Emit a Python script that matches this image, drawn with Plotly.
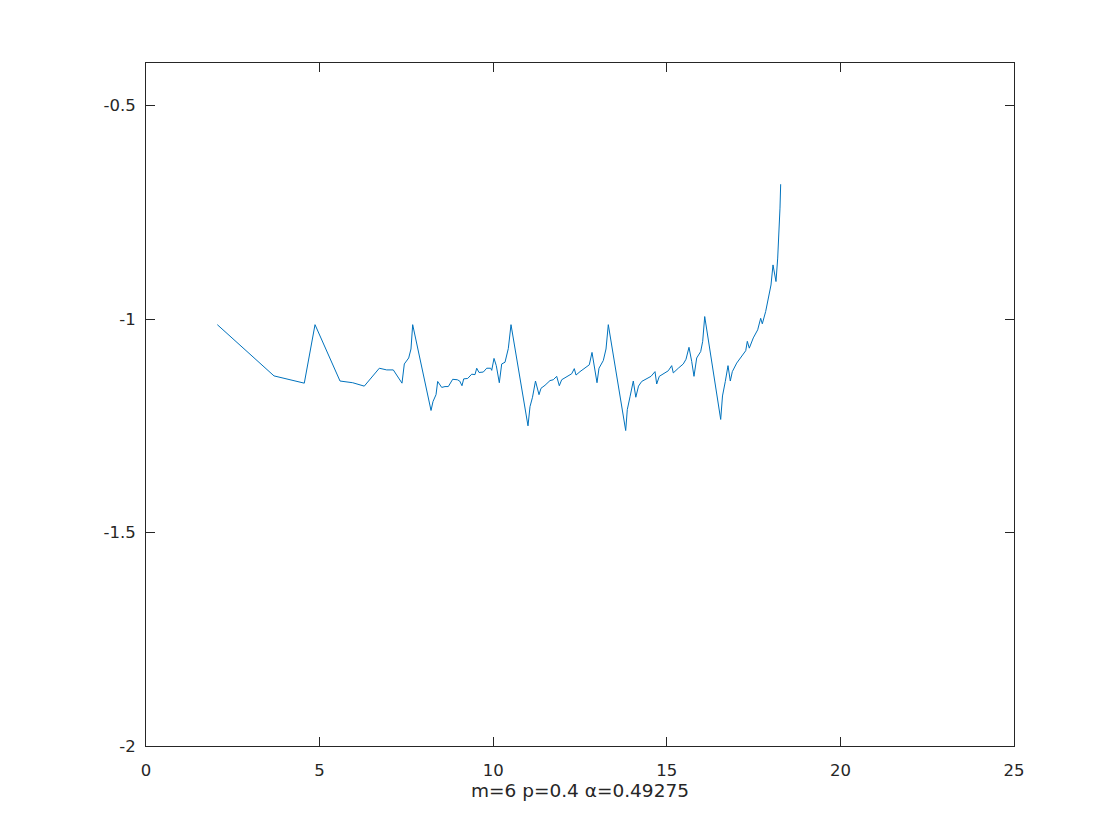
import plotly.graph_objects as go

x_vals = [2.054, 3.687, 4.559, 4.868, 5.588, 5.953, 6.287, 6.720, 6.933, 7.123,
          7.373, 7.440, 7.566, 7.632, 7.681, 8.209, 8.266, 8.353, 8.401, 8.517,
          8.612, 8.707, 8.833, 8.966, 9.035, 9.101, 9.150, 9.265, 9.381, 9.476,
          9.525, 9.591, 9.715, 9.813, 9.928, 9.957, 10.023, 10.089, 10.176, 10.245,
          10.340, 10.435, 10.513, 11.002, 11.060, 11.132, 11.218, 11.319, 11.377, 11.492,
          11.636, 11.731, 11.829, 11.904, 11.973, 12.117, 12.261, 12.336, 12.385, 12.500,
          12.644, 12.768, 12.846, 12.912, 12.990, 13.047, 13.171, 13.249, 13.315, 13.816,
          13.862, 13.940, 14.035, 14.107, 14.185, 14.277, 14.421, 14.545, 14.660, 14.709,
          14.784, 14.899, 15.043, 15.141, 15.187, 15.331, 15.475, 15.553, 15.639, 15.717,
          15.783, 15.861, 15.976, 16.034, 16.092, 16.552, 16.604, 16.685, 16.763, 16.829,
          16.887, 17.013, 17.157, 17.273, 17.319, 17.376, 17.491, 17.618, 17.704, 17.751,
          17.848, 17.923, 17.972, 18.001, 18.059, 18.145, 18.194, 18.232, 18.260, 18.280]

y_vals = [-1.013, -1.133, -1.150, -1.013, -1.145, -1.149, -1.157, -1.115, -1.119, -1.119,
          -1.150, -1.105, -1.091, -1.070, -1.013, -1.214, -1.193, -1.177, -1.146, -1.160,
          -1.158, -1.158, -1.141, -1.142, -1.145, -1.156, -1.140, -1.139, -1.129, -1.130,
          -1.115, -1.125, -1.124, -1.115, -1.115, -1.120, -1.092, -1.109, -1.149, -1.105,
          -1.101, -1.069, -1.013, -1.250, -1.205, -1.183, -1.145, -1.177, -1.162, -1.155,
          -1.144, -1.142, -1.134, -1.156, -1.142, -1.134, -1.128, -1.116, -1.131, -1.123,
          -1.115, -1.107, -1.078, -1.107, -1.149, -1.115, -1.097, -1.070, -1.013, -1.261,
          -1.212, -1.182, -1.145, -1.183, -1.157, -1.146, -1.140, -1.134, -1.123, -1.152,
          -1.134, -1.128, -1.121, -1.109, -1.126, -1.115, -1.105, -1.094, -1.066, -1.099,
          -1.134, -1.091, -1.076, -1.052, -0.994, -1.235, -1.180, -1.146, -1.109, -1.145,
          -1.123, -1.103, -1.088, -1.074, -1.052, -1.068, -1.044, -1.025, -0.998, -1.011,
          -0.982, -0.955, -0.931, -0.920, -0.873, -0.912, -0.857, -0.798, -0.740, -0.684]

x_ticks = [0, 5, 10, 15, 20, 25]
x_ticklabels = ["0", "5", "10", "15", "20", "25"]
y_ticks = [-2, -1.5, -1, -0.5]
y_ticklabels = ["-2", "-1.5", "-1", "-0.5"]
x_title = "m=6 p=0.4 α=0.49275"

FONT = "DejaVu Sans, Liberation Sans, Arial, sans-serif"

fig = go.Figure()
fig.add_trace(go.Scatter(x=x_vals, y=y_vals, mode="lines",
                         line=dict(color="#0072BD", width=1), showlegend=False))

axis_common = dict(showgrid=False, zeroline=False, showline=True, linecolor="#262626",
                   linewidth=1, mirror="ticks", ticks="inside", ticklen=9,
                   tickcolor="#262626", tickwidth=1,
                   tickfont=dict(family=FONT, size=16.5, color="#262626"))

fig.update_xaxes(range=[0, 25], tickvals=x_ticks, ticktext=x_ticklabels,
                 ticklabelstandoff=9,
                 title=dict(text=x_title, standoff=0,
                            font=dict(family=FONT, size=18.5, color="#262626")),
                 **axis_common)
fig.update_yaxes(range=[-2, -0.4], tickvals=y_ticks, ticktext=y_ticklabels,
                 ticklabelstandoff=6, **axis_common)

fig.update_layout(width=1120, height=840, plot_bgcolor="white", paper_bgcolor="white",
                  margin=dict(l=138, r=114, t=55, b=102))

fig.write_html("out.html")
